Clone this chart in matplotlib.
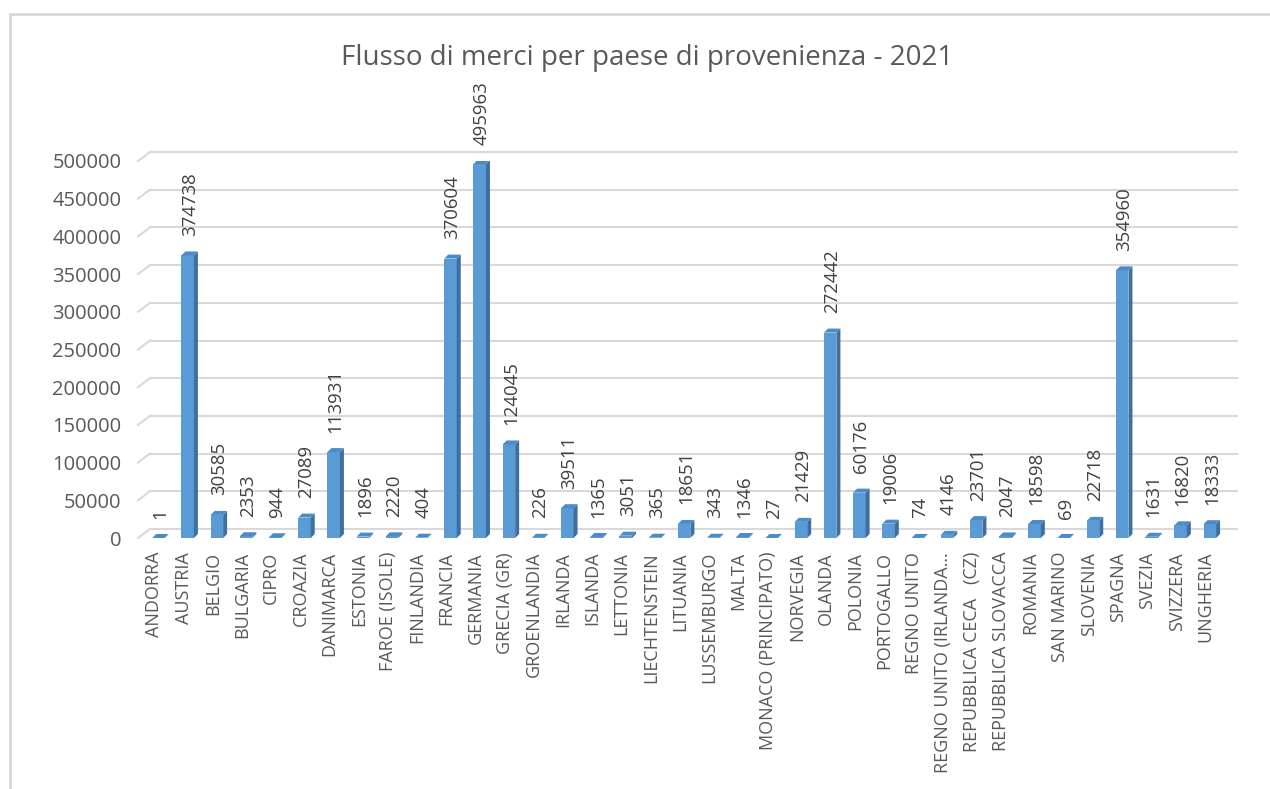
import matplotlib.pyplot as plt
from matplotlib.patches import Polygon
from matplotlib.lines import Line2D
from matplotlib.transforms import ScaledTranslation

# dati
paesi = ['ANDORRA', 'AUSTRIA', 'BELGIO', 'BULGARIA', 'CIPRO', 'CROAZIA',
         'DANIMARCA', 'ESTONIA', 'FAROE (ISOLE)', 'FINLANDIA', 'FRANCIA',
         'GERMANIA', 'GRECIA (GR)', 'GROENLANDIA', 'IRLANDA', 'ISLANDA',
         'LETTONIA', 'LIECHTENSTEIN', 'LITUANIA', 'LUSSEMBURGO', 'MALTA',
         'MONACO (PRINCIPATO)', 'NORVEGIA', 'OLANDA', 'POLONIA', 'PORTOGALLO',
         'REGNO UNITO', 'REGNO UNITO (IRLANDA…', 'REPUBBLICA CECA   (CZ)',
         'REPUBBLICA SLOVACCA', 'ROMANIA', 'SAN MARINO', 'SLOVENIA', 'SPAGNA',
         'SVEZIA', 'SVIZZERA', 'UNGHERIA']
valori = [1, 374738, 30585, 2353, 944, 27089, 113931, 1896, 2220, 404,
          370604, 495963, 124045, 226, 39511, 1365, 3051, 365, 18651, 343,
          1346, 27, 21429, 272442, 60176, 19006, 74, 4146, 23701, 2047,
          18598, 69, 22718, 354960, 1631, 16820, 18333]
yticks = list(range(0, 500001, 50000))

plt.rcParams['font.family'] = ['Open Sans', 'DejaVu Sans']

W, H = 1270, 789
fig = plt.figure(figsize=(W / 100, H / 100), dpi=100)
left, right, bottom, top = 138, 1225, 538, 161
ax = fig.add_axes([left / W, 1 - bottom / H, (right - left) / W, (bottom - top) / H])
x_min, x_max = -0.70, 36.52
ax.set_xlim(x_min, x_max)
ax.set_ylim(0, 500000)

# data units per pixel
ux = (x_max - x_min) / (right - left)
uy = 500000 / (bottom - top)

# back wall gridlines with a small 3D offset
gx, gy = 12 * ux, 9 * uy
for t in yticks:
    ax.plot([x_min + gx, x_max + gx], [t + gy, t + gy], color='#D9D9D9',
            lw=1.5, clip_on=False, zorder=0)
    ax.plot([x_min, x_min + gx], [t, t + gy], color='#D9D9D9',
            lw=1.5, clip_on=False, zorder=0)

# bars: front face + side + top
bw = 12.5 * ux
dx, dy = 4 * ux, 4 * uy
xs = list(range(len(paesi)))
ax.bar(xs, valori, width=bw, color='#5B9BD5', zorder=3)
for i, v in zip(xs, valori):
    x0, x1 = i - bw / 2, i + bw / 2
    ax.add_patch(Polygon([(x1, 0), (x1 + dx, dy), (x1 + dx, v + dy), (x1, v)],
                         closed=True, facecolor='#3E6F9F', edgecolor='none', zorder=3))
    ax.add_patch(Polygon([(x0, v), (x1, v), (x1 + dx, v + dy), (x0 + dx, v + dy)],
                         closed=True, facecolor='#4A8BC9', edgecolor='none', zorder=4))
    ax.annotate(str(v), (i + dx / 2, v), xytext=(0, 14), textcoords='offset points',
                rotation=90, ha='center', va='bottom', fontsize=13.4, color='#404040')

for s in ax.spines.values():
    s.set_visible(False)
ax.tick_params(length=0)
ax.set_yticks(yticks)
ax.set_yticklabels([str(t) for t in yticks], fontsize=14.5, color='#595959')
ax.tick_params(axis='y', pad=12)
ax.set_xticks(xs)
ax.set_xticklabels(paesi, rotation=90, fontsize=13, color='#595959')
ax.tick_params(axis='x', pad=10)
for lab in ax.get_xticklabels():
    lab.set_transform(lab.get_transform() + ScaledTranslation(-0.04, 0, fig.dpi_scale_trans))

fig.text(647 / W, 1 - 58 / H, 'Flusso di merci per paese di provenienza - 2021',
         ha='center', va='center', fontsize=20, color='#595959')

# chart area border (left and top)
fig.add_artist(Line2D([10 / W, 10 / W], [0, 1 - 14 / H], color='#D9D9D9', lw=2,
                      transform=fig.transFigure))
fig.add_artist(Line2D([10 / W, 1], [1 - 14 / H, 1 - 14 / H], color='#D9D9D9', lw=2,
                      transform=fig.transFigure))

fig.savefig('out.png', dpi=100)
